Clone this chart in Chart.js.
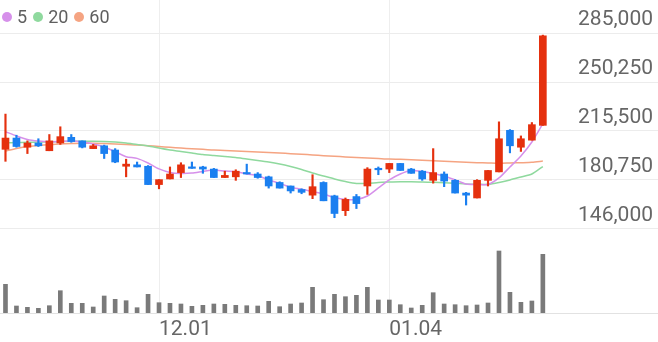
<!DOCTYPE html>
<html><head><meta charset="utf-8">
<script src="https://cdn.jsdelivr.net/npm/chart.js@4"></script>
<style>
html,body{margin:0;padding:0;background:#fff;}
#wrap{position:relative;width:658px;height:342px;overflow:hidden;}
#legend{position:absolute;left:2px;top:7px;font:18px Roboto, sans-serif;color:#5f5f5f;display:flex;align-items:center;line-height:20px;}
#legend .it{display:flex;align-items:center;margin-right:6px;}
#legend .dot{width:10px;height:10px;border-radius:50%;margin-right:5px;display:inline-block;}
</style></head><body>
<div id="wrap"><canvas id="c" width="658" height="342"></canvas><div id="legend"></div></div>
<script>
const dates = ['11.13','11.14','11.15','11.16','11.17','11.20','11.21','11.22','11.23','11.24','11.27','11.28','11.29','11.30',
 '12.01','12.04','12.05','12.06','12.07','12.08','12.11','12.12','12.13','12.14','12.15','12.18','12.19','12.20','12.21','12.22','12.26','12.27','12.28',
 '01.02','01.03','01.04','01.05','01.08','01.09','01.10','01.11','01.12','01.15','01.16','01.17','01.18','01.19','01.22','01.23','01.24'];
const emptySlots = 10;
const tickLabels = ['12.01','01.04'];
const priceTicks = [146000,180750,215500,250250,285000];

const opens  = [202500,210500,204000,207000,201500,207000,211000,208500,203000,205000,202000,190500,191500,190500,177500,181500,186000,190000,190000,188500,182500,183000,186000,185000,183000,179000,176500,174000,170000,179000,169500,159000,169000,176500,189000,188500,192500,188500,187000,180500,185000,180500,171500,168000,180500,186500,216000,204000,209000,219500];
const highs  = [227500,212500,208500,210000,213000,218500,213000,208500,206000,205500,203000,195500,193500,191000,181000,190000,193000,193500,190500,189000,187000,188000,192000,186000,183500,179500,176500,174500,184500,179500,170000,168000,170500,189500,190000,192500,192500,189000,187500,203000,186500,181000,172000,181000,187500,222000,216500,212000,221500,283500];
const lows   = [194000,204000,199500,204500,201500,206000,207500,203500,203000,196000,193000,183000,190000,177500,174500,181500,182500,189000,185500,182500,182500,180500,185000,182000,175000,175000,171500,171000,167500,166000,154000,155500,160500,170500,184500,186000,187500,185500,180500,178500,176000,171500,163000,168000,176500,186500,200000,201000,209000,219500];
const closes = [210500,204500,207000,205000,208500,211500,208000,204000,205000,199500,193500,192000,190000,177500,181000,185000,191500,189000,188500,182500,184000,187000,185000,182500,176500,175000,173000,172000,176000,166000,157000,167000,164000,188500,188000,192500,187500,185500,181500,186000,180000,171500,170000,180500,187500,210000,205000,210000,220000,283000];
const volumes = [287,70,57,47,73,223,97,97,60,170,137,123,53,187,103,97,90,67,77,90,87,77,73,70,117,63,90,100,257,133,187,163,177,257,130,130,83,50,77,203,90,83,73,80,100,620,207,107,120,587];
const ma5  = [215000,212000,209500,208400,207900,208100,208400,207700,206300,204200,200800,197300,196100,192800,188600,186100,185400,185700,186800,187800,187100,186600,185000,183800,180800,178400,175600,174200,172500,170800,168300,166900,166900,169400,175100,180800,185000,187500,186800,185400,183600,180800,177900,177600,177600,182200,190000,197800,207700,220800];
const ma20 = [207200,207300,207500,207700,207800,208100,208200,208200,208200,208100,207700,207000,205900,204900,203400,202000,201000,199900,198800,198100,197400,196700,195600,194600,193500,192100,190300,188200,185700,183600,181500,179700,178300,178300,179000,179300,179500,179500,179300,179100,178800,178400,177900,177700,177700,179000,180800,182900,185000,190300];
const ma60 = [201300,203100,204500,205200,205800,206300,206600,206800,206800,206600,206300,205900,205600,205100,204500,203900,203400,202900,202500,202000,201700,201300,201000,200600,200300,199900,199400,199000,198500,198000,197600,197100,196700,196400,196000,195600,195400,195100,194700,194400,194000,193700,193300,193000,192800,192600,192800,193000,193300,194200];
const maNames = ['5','20','60'];
const maColors = ['#d690ea','#8fd99e','#f5a482'];

const UP = '#e5300e', DOWN = '#1a7ff0', VOL = '#7a7a7a';
const labels = dates.concat(Array(emptySlots).fill(''));
const candleColors = opens.map((o,i)=> closes[i] >= o ? UP : DOWN);

const legend = document.getElementById('legend');
maNames.forEach((n,i)=>{
  const it = document.createElement('span'); it.className='it';
  const d = document.createElement('span'); d.className='dot'; d.style.background = maColors[i];
  const t = document.createElement('span'); t.textContent = n;
  it.appendChild(d); it.appendChild(t); legend.appendChild(it);
});

const tickFont = {family:'Roboto', size:21};
new Chart(document.getElementById('c'), {
  data: {
    labels,
    datasets: [
      {type:'line', label:'MA60', data:ma60, borderColor:maColors[2], borderWidth:1.5, pointRadius:0, tension:0.25, yAxisID:'y', order:5},
      {type:'line', label:'MA20', data:ma20, borderColor:maColors[1], borderWidth:1.5, pointRadius:0, tension:0.25, yAxisID:'y', order:4},
      {type:'line', label:'MA5', data:ma5, borderColor:maColors[0], borderWidth:1.5, pointRadius:0, tension:0.25, yAxisID:'y', order:3},
      {type:'bar', label:'wick', data:lows.map((l,i)=>[l, highs[i]]), backgroundColor:candleColors, barThickness:1.5, yAxisID:'y', order:2},
      {type:'bar', label:'body', data:opens.map((o,i)=>[o, closes[i]]), backgroundColor:candleColors, barThickness:7, minBarLength:1.5, yAxisID:'y', order:1},
      {type:'bar', label:'volume', data:volumes, backgroundColor:VOL, barThickness:4, yAxisID:'v', order:6}
    ]
  },
  options: {
    responsive:false, animation:false, devicePixelRatio:1,
    layout:{padding:0},
    plugins:{legend:{display:false}, tooltip:{enabled:false}},
    datasets:{bar:{grouped:false}},
    scales:{
      x:{
        type:'category', offset:true,
        grid:{offset:false, color:'#eeeeee', drawTicks:false},
        border:{color:'#e2e2e2'},
        ticks:{autoSkip:false, maxRotation:0, padding:4, align:'start', color:'#666', font:tickFont},
        afterBuildTicks(s){ s.ticks = s.ticks.filter(t => tickLabels.includes(labels[t.value])); },
        afterFit(s){ s.height = 29; s.paddingLeft = 0; s.paddingRight = 0; }
      },
      y:{
        position:'right', min:86427, max:308404,
        grid:{color:'#ececec', drawTicks:false},
        border:{display:false},
        ticks:{mirror:true, padding:-5, labelOffset:-13, color:'#666', font:tickFont,
               callback:v => Number(v).toLocaleString('en-US')},
        afterBuildTicks(s){ s.ticks = priceTicks.map(v => ({value:v})); },
        afterFit(s){ s.width = 0; s.paddingTop = 0; s.paddingBottom = 0; }
      },
      v:{display:false, position:'left', min:0, max:3130}
    }
  }
});
</script>
</body></html>
